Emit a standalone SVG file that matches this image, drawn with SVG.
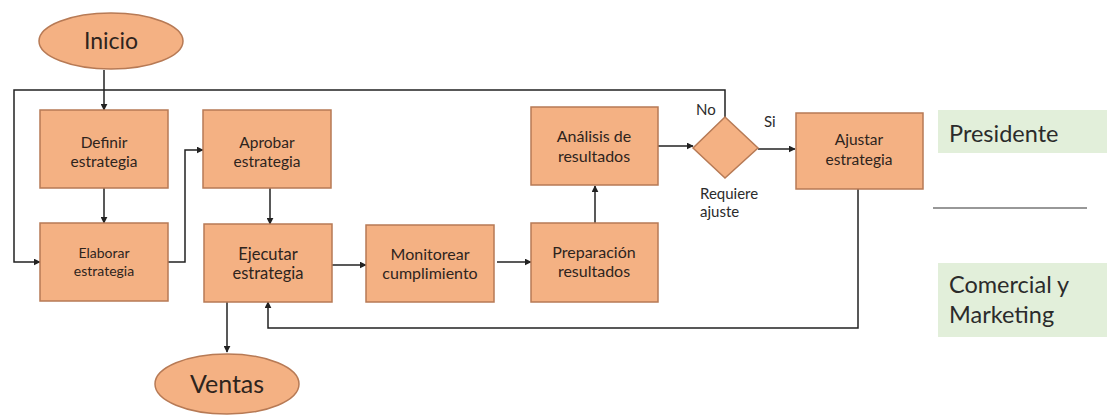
<svg xmlns="http://www.w3.org/2000/svg" width="1107" height="419" viewBox="0 0 1107 419">
  <style>
    .box { fill: #F4B183; stroke: #B77A55; stroke-width: 1.5; }
    .term { fill: #F4B183; stroke: #B77A55; stroke-width: 1.5; }
    .lane { fill: #E2EFDA; }
    .lbl { font-family: Lato, "Liberation Sans", sans-serif; fill: #2e241d; text-anchor: middle; }
    .side { font-family: Lato, "Liberation Sans", sans-serif; fill: #2b2b2b; font-size: 23.5px; }
    .note { font-family: Lato, "Liberation Sans", sans-serif; fill: #2b2b2b; font-size: 15px; }
    .wire { fill: none; stroke: #222; stroke-width: 1.5; }
  </style>
  <defs>
    <marker id="arrow" viewBox="0 0 10 10" refX="9" refY="5" markerWidth="7" markerHeight="7" markerUnits="userSpaceOnUse" orient="auto">
      <path d="M0,0 L10,5 L0,10 z" fill="#222"/>
    </marker>
  </defs>

  <rect width="1107" height="419" fill="#ffffff"/>

  <!-- connectors -->
  <g id="connectors">
    <path class="wire" d="M104,70 V110" marker-end="url(#arrow)"/>
    <path class="wire" d="M104,188 V223" marker-end="url(#arrow)"/>
    <path class="wire" d="M168,262 H185 V150 H203" marker-end="url(#arrow)"/>
    <path class="wire" d="M725,117 V90 H14 V262 H40" marker-end="url(#arrow)"/>
    <path class="wire" d="M270,188 V224" marker-end="url(#arrow)"/>
    <path class="wire" d="M227,302 V352" marker-end="url(#arrow)"/>
    <path class="wire" d="M332,265 H366" marker-end="url(#arrow)"/>
    <path class="wire" d="M497,262 H531" marker-end="url(#arrow)"/>
    <path class="wire" d="M595,223 V186" marker-end="url(#arrow)"/>
    <path class="wire" d="M658,146 H693" marker-end="url(#arrow)"/>
    <path class="wire" d="M758,149 H795" marker-end="url(#arrow)"/>
    <path class="wire" d="M858,189 V328 H268 V302" marker-end="url(#arrow)"/>
    <line x1="933" y1="208" x2="1087" y2="208" stroke="#333" stroke-width="1.2"/>
  </g>

  <g id="inicio">
    <ellipse class="term" cx="111" cy="41" rx="72" ry="28"/>
    <text class="lbl" x="111" y="49" font-size="23">Inicio</text>
  </g>

  <g id="definir">
    <rect class="box" x="40" y="110" width="128" height="78"/>
    <text class="lbl" x="104" y="148" font-size="15.5">Definir</text>
    <text class="lbl" x="104" y="167" font-size="15.5">estrategia</text>
  </g>

  <g id="aprobar">
    <rect class="box" x="203" y="110" width="128" height="78"/>
    <text class="lbl" x="267" y="148" font-size="15.5">Aprobar</text>
    <text class="lbl" x="267" y="167" font-size="15.5">estrategia</text>
  </g>

  <g id="elaborar">
    <rect class="box" x="40" y="223" width="128" height="78"/>
    <text class="lbl" x="104" y="258" font-size="14">Elaborar</text>
    <text class="lbl" x="104" y="276" font-size="14">estrategia</text>
  </g>

  <g id="ejecutar">
    <rect class="box" x="204" y="224" width="128" height="78"/>
    <text class="lbl" x="268" y="260" font-size="16.5">Ejecutar</text>
    <text class="lbl" x="268" y="279" font-size="16.5">estrategia</text>
  </g>

  <g id="monitorear">
    <rect class="box" x="366" y="225" width="128" height="77"/>
    <text class="lbl" x="430" y="260" font-size="16">Monitorear</text>
    <text class="lbl" x="430" y="279" font-size="16">cumplimiento</text>
  </g>

  <g id="preparacion">
    <rect class="box" x="531" y="223" width="127" height="79"/>
    <text class="lbl" x="594" y="258" font-size="16">Preparación</text>
    <text class="lbl" x="594" y="277" font-size="16">resultados</text>
  </g>

  <g id="analisis">
    <rect class="box" x="531" y="107" width="127" height="78"/>
    <text class="lbl" x="594" y="142" font-size="16">Análisis de</text>
    <text class="lbl" x="594" y="162" font-size="16">resultados</text>
  </g>

  <g id="decision">
    <polygon class="box" points="725,117 758,148 725,178 693,148"/>
    <text class="note" x="696" y="115" font-size="16.5">No</text>
    <text class="note" x="764" y="127" font-size="16.5">Si</text>
    <text class="note" x="700" y="199" font-size="14.5">Requiere</text>
    <text class="note" x="700" y="217" font-size="14.5">ajuste</text>
  </g>

  <g id="ajustar">
    <rect class="box" x="796" y="113" width="127" height="76"/>
    <text class="lbl" x="859" y="145" font-size="15.5">Ajustar</text>
    <text class="lbl" x="859" y="165" font-size="15.5">estrategia</text>
  </g>

  <g id="ventas">
    <ellipse class="term" cx="227" cy="384" rx="72" ry="30"/>
    <text class="lbl" x="227" y="393" font-size="25">Ventas</text>
  </g>

  <g id="presidente">
    <rect class="lane" x="938" y="110" width="169" height="43"/>
    <text class="side" x="949" y="142">Presidente</text>
  </g>

  <g id="comercial">
    <rect class="lane" x="938" y="263" width="169" height="74"/>
    <text class="side" x="949" y="293">Comercial y</text>
    <text class="side" x="949" y="323">Marketing</text>
  </g>
</svg>
